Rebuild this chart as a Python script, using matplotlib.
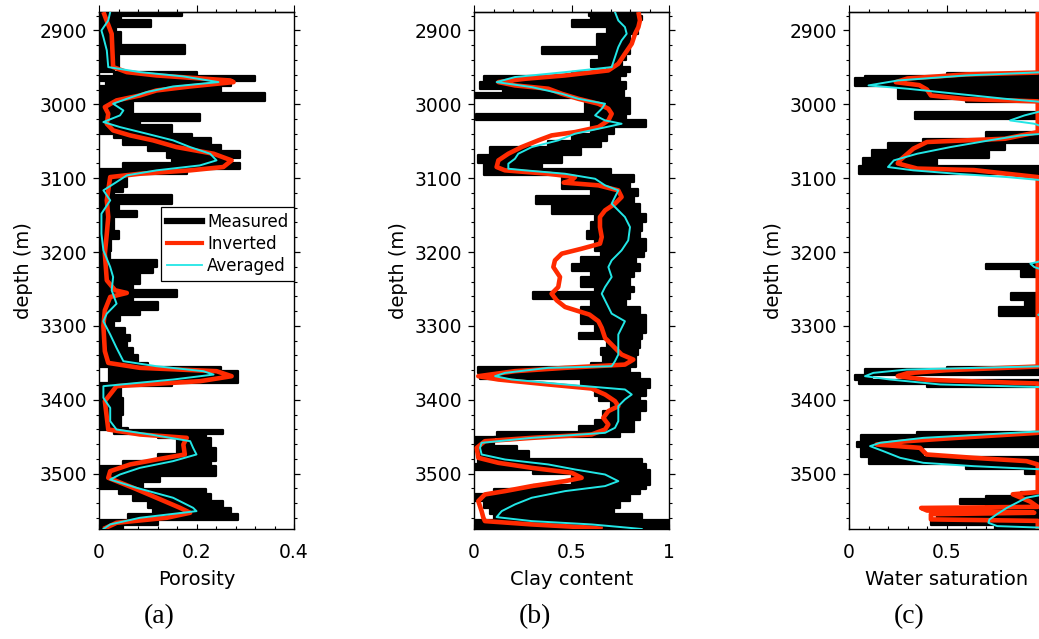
import matplotlib
matplotlib.use("Agg")
import matplotlib.pyplot as plt
from matplotlib.lines import Line2D
from matplotlib.ticker import MultipleLocator, FixedLocator

plt.rcParams['font.family'] = ['DejaVu Sans']

DEPTH_TOP, DEPTH_BOTTOM = 2875, 3575
RED = '#ff2a00'
CYAN = '#22e6e6'

# ---------------- Porosity ----------------
por_meas_top = [2875, 2880, 2886, 2895, 2902, 2920, 2932, 2950, 2956, 2962, 2968, 2975,
                2984, 2995, 3013, 3022, 3028, 3040, 3045, 3055, 3063, 3073, 3080, 3088,
                3094, 3112, 3119, 3123, 3135, 3144, 3152, 3171, 3182, 3198, 3211, 3220,
                3229, 3243, 3252, 3261, 3268, 3278, 3285, 3294, 3303, 3312, 3321, 3330,
                3339, 3350, 3355, 3361, 3377, 3382, 3397, 3420, 3438, 3441, 3447, 3452,
                3465, 3474, 3483, 3490, 3503, 3512, 3521, 3528, 3537, 3546, 3555, 3563, 3570]
por_meas_lo = [0.0, 0.0, 0.0, 0.0, 0.0, 0.0, 0.0, 0.0, 0.03, 0.0, 0.015, 0.0,
               0.0, 0.0, 0.0, 0.0, 0.0, 0.03, 0.05, 0.1, 0.14, 0.15, 0.05, 0.0,
               0.0, 0.0, 0.0, 0.0, 0.0, 0.0, 0.0, 0.0, 0.0, 0.0, 0.0, 0.0,
               0.0, 0.0, 0.0, 0.0, 0.0, 0.0, 0.0, 0.0, 0.0, 0.0, 0.0, 0.0,
               0.0, 0.0, 0.02, 0.02, 0.0, 0.0, 0.0, 0.0, 0.0, 0.03, 0.12, 0.16,
               0.16, 0.12, 0.05, 0.0, 0.0, 0.0, 0.04, 0.07, 0.1, 0.11, 0.06, 0.0, 0.0]
por_meas_hi = [0.17, 0.045, 0.107, 0.035, 0.045, 0.176, 0.04, 0.03, 0.2, 0.32, 0.27, 0.25,
               0.34, 0.07, 0.207, 0.084, 0.15, 0.19, 0.23, 0.25, 0.29, 0.27, 0.29, 0.18,
               0.057, 0.05, 0.03, 0.149, 0.04, 0.077, 0.03, 0.04, 0.025, 0.023, 0.118, 0.11,
               0.085, 0.07, 0.16, 0.07, 0.122, 0.085, 0.043, 0.03, 0.054, 0.064, 0.057, 0.07,
               0.08, 0.1, 0.25, 0.286, 0.15, 0.046, 0.05, 0.045, 0.06, 0.255, 0.22, 0.23,
               0.24, 0.24, 0.23, 0.24, 0.125, 0.09, 0.22, 0.23, 0.255, 0.27, 0.286, 0.12, 0.05]

por_inv_depth = [2875, 2904.5, 2949.6, 2956.4, 2960.9, 2967.7, 2969.9, 2975.8, 2981.2, 2988,
                 2994.7, 3003.7, 3012.8, 3026.3, 3035.3, 3042.1, 3048.8, 3057.9, 3066.9, 3075.9,
                 3084.9, 3089.4, 3094, 3098.5, 3130, 3152.6, 3175.1, 3202.2, 3238.3, 3251.8,
                 3255.4, 3260.8, 3278.9, 3300, 3334.3, 3350.1, 3356.8, 3361.3, 3368.1, 3374.9,
                 3381.6, 3401.9, 3440.3, 3447, 3451.6, 3460.6, 3474.1, 3480.9, 3487.6, 3496.7,
                 3505.7, 3519.2, 3532.7, 3546.3, 3553, 3559.8, 3566.6, 3575]
por_inv = [0.009, 0.026, 0.029, 0.057, 0.118, 0.269, 0.276, 0.187, 0.118, 0.084,
           0.036, 0.012, 0.019, 0.016, 0.029, 0.064, 0.111, 0.159, 0.235, 0.272,
           0.255, 0.187, 0.084, 0.023, 0.016, 0.019, 0.016, 0.012, 0.016, 0.033,
           0.057, 0.023, 0.012, 0.009, 0.012, 0.019, 0.084, 0.241, 0.272, 0.207,
           0.036, 0.012, 0.019, 0.084, 0.18, 0.173, 0.176, 0.118, 0.064, 0.023,
           0.019, 0.07, 0.118, 0.166, 0.187, 0.139, 0.036, 0.009]

por_avg_depth = [2875, 2886.5, 2900, 2909, 2927, 2949.6, 2956.4, 2962.2, 2969.9, 2975.8,
                 2983.4, 2992.5, 2999.2, 3008.3, 3015, 3024, 3030.8, 3039.8, 3048.8, 3057.9,
                 3066.9, 3075.9, 3082.7, 3089.4, 3096.2, 3105.2, 3116.5, 3130, 3148.1, 3175.1,
                 3197.7, 3220.3, 3233.8, 3251.8, 3269.9, 3283.4, 3293.7, 3311.7, 3329.8, 3347.8,
                 3354.6, 3361.3, 3365.9, 3372.6, 3381.6, 3397.4, 3411, 3429, 3440.3, 3447,
                 3456.1, 3465.1, 3474.1, 3483.1, 3492.2, 3501.2, 3508, 3519.2, 3532.7, 3546.3,
                 3550.8, 3559.8, 3568.8, 3575]
por_avg = [0.023, 0.019, 0.005, 0.009, 0.016, 0.019, 0.084, 0.173, 0.245, 0.152,
           0.098, 0.057, 0.029, 0.05, 0.043, 0.009, 0.043, 0.098, 0.152, 0.187,
           0.228, 0.241, 0.207, 0.118, 0.057, 0.036, 0.009, 0.023, 0.005, 0.005,
           0.009, 0.023, 0.029, 0.026, 0.036, 0.016, 0.009, 0.023, 0.036, 0.05,
           0.118, 0.214, 0.235, 0.152, 0.009, 0.009, 0.023, 0.023, 0.036, 0.105,
           0.187, 0.193, 0.2, 0.152, 0.084, 0.043, 0.023, 0.077, 0.152, 0.193,
           0.2, 0.084, 0.023, 0.009]

# ---------------- Clay content ----------------
clay_meas_top = [2875, 2880, 2886, 2895, 2905, 2922, 2932, 2940, 2950, 2956, 2962, 2970,
                 2979, 2985, 2992, 3013, 3021, 3031, 3040, 3049, 3058, 3069, 3080, 3087,
                 3096, 3105, 3114, 3124, 3135, 3148, 3159, 3171, 3182, 3198, 3207, 3216,
                 3225, 3234, 3247, 3254, 3263, 3274, 3285, 3298, 3309, 3318, 3330, 3340,
                 3350, 3356, 3364, 3372, 3384, 3395, 3402, 3415, 3428, 3436, 3443, 3450,
                 3462, 3470, 3480, 3487, 3495, 3500, 3515, 3521, 3528, 3537, 3546, 3555,
                 3563, 3570]
clay_meas_lo = [0.59, 0.6, 0.5, 0.68, 0.63, 0.35, 0.64, 0.6, 0.68, 0.5, 0.05, 0.03,
                0.15, 0.0, 0.57, 0.01, 0.6, 0.6, 0.5, 0.38, 0.08, 0.02, 0.05, 0.05,
                0.45, 0.45, 0.6, 0.32, 0.4, 0.62, 0.6, 0.58, 0.62, 0.65, 0.55, 0.5,
                0.6, 0.55, 0.62, 0.3, 0.6, 0.55, 0.55, 0.62, 0.54, 0.68, 0.65, 0.66,
                0.6, 0.02, 0.03, 0.55, 0.62, 0.64, 0.7, 0.66, 0.62, 0.54, 0.12, 0.0,
                0.0, 0.03, 0.02, 0.0, 0.3, 0.5, 0.3, 0.1, 0.0, 0.05, 0.08, 0.1,
                0.0, 0.0]
clay_meas_hi = [0.85, 0.86, 0.84, 0.84, 0.8, 0.8, 0.78, 0.76, 0.8, 0.78, 0.75, 0.78,
                0.77, 0.77, 0.8, 0.78, 0.88, 0.72, 0.68, 0.65, 0.55, 0.45, 0.35, 0.7,
                0.82, 0.8, 0.84, 0.82, 0.85, 0.88, 0.86, 0.85, 0.88, 0.87, 0.83, 0.85,
                0.82, 0.8, 0.82, 0.8, 0.78, 0.85, 0.88, 0.88, 0.86, 0.85, 0.84, 0.83,
                0.83, 0.8, 0.85, 0.9, 0.88, 0.85, 0.88, 0.85, 0.82, 0.82, 0.75, 0.1,
                0.22, 0.28, 0.86, 0.88, 0.9, 0.9, 0.88, 0.85, 0.8, 0.75, 0.72, 0.86,
                1.0, 1.0]

clay_inv_depth = [2875, 2886.5, 2895.5, 2904.5, 2918, 2931.5, 2945.1, 2954.1, 2960.9, 2965.4,
                  2969.9, 2974.4, 2978.9, 2985.7, 2992.5, 2999.2, 3006, 3012.8, 3021.8, 3030.8,
                  3037.6, 3042.1, 3048.8, 3057.9, 3066.9, 3075.9, 3084.9, 3089.4, 3094, 3098.5,
                  3103, 3106, 3109.7, 3116.5, 3125.5, 3134.5, 3143.6, 3152.6, 3166.2, 3179.7,
                  3188.7, 3195.5, 3202.2, 3211.3, 3220.3, 3233.8, 3247.4, 3256.4, 3265.4, 3274.4,
                  3284.7, 3293.7, 3302.7, 3316.3, 3329.8, 3338.8, 3345.6, 3352.4, 3356.8, 3361.3,
                  3368.1, 3372.6, 3379.3, 3384.8, 3392.9, 3401.9, 3408.7, 3415.4, 3424.5, 3433.5,
                  3440.3, 3447, 3451.6, 3456.1, 3465.1, 3478.6, 3485.4, 3492.2, 3498.9, 3505.7,
                  3510.2, 3516.9, 3523.7, 3528.2, 3537.2, 3550.8, 3559.8, 3564.3, 3568.8, 3573.3,
                  3575]
clay_inv = [0.843, 0.851, 0.843, 0.826, 0.809, 0.774, 0.74, 0.689, 0.467, 0.262,
            0.125, 0.21, 0.381, 0.45, 0.535, 0.638, 0.689, 0.706, 0.689, 0.638,
            0.518, 0.398, 0.33, 0.244, 0.176, 0.125, 0.116, 0.159, 0.381, 0.518,
            0.5, 0.46, 0.638, 0.74, 0.757, 0.723, 0.672, 0.646, 0.646, 0.655,
            0.646, 0.552, 0.45, 0.415, 0.407, 0.441, 0.432, 0.398, 0.424, 0.467,
            0.592, 0.638, 0.655, 0.672, 0.723, 0.757, 0.817, 0.774, 0.467, 0.21,
            0.022, 0.125, 0.381, 0.603, 0.672, 0.723, 0.74, 0.689, 0.663, 0.689,
            0.672, 0.603, 0.296, 0.056, 0.014, 0.022, 0.125, 0.296, 0.501, 0.552,
            0.467, 0.296, 0.159, 0.056, 0.022, 0.039, 0.048, 0.056, 0.296, 0.603,
            0.66]

clay_avg_depth = [2875, 2886.5, 2895.5, 2904.5, 2913.5, 2922.6, 2936.1, 2949.6, 2956.4, 2963.1,
                  2969.9, 2976.7, 2985.7, 2992.5, 2999.2, 3006, 3015, 3021.8, 3026.3, 3033.1,
                  3039.8, 3048.8, 3057.9, 3066.9, 3073.7, 3080.4, 3087.2, 3089.4, 3094, 3100.8,
                  3109.7, 3116.5, 3125.5, 3134.5, 3143.6, 3152.6, 3166.2, 3184.2, 3197.7, 3211.3,
                  3220.3, 3233.8, 3247.4, 3256.4, 3265.4, 3274.4, 3283.4, 3293.7, 3302.7, 3311.7,
                  3338.8, 3347.8, 3354.6, 3356.8, 3363.6, 3368.1, 3372.6, 3379.3, 3386.1, 3392.9,
                  3399.6, 3408.7, 3420, 3429, 3438, 3444.8, 3451.6, 3458.3, 3465.1, 3474.1,
                  3480.9, 3487.6, 3494.4, 3501.2, 3510.2, 3516.9, 3523.7, 3532.7, 3541.7, 3550.8,
                  3558.9, 3564.3, 3568.8, 3573.3, 3575]
clay_avg = [0.723, 0.74, 0.774, 0.783, 0.757, 0.74, 0.723, 0.706, 0.467, 0.21,
            0.116, 0.296, 0.45, 0.535, 0.672, 0.655, 0.621, 0.672, 0.757, 0.638,
            0.518, 0.432, 0.296, 0.227, 0.21, 0.176, 0.176, 0.262, 0.467, 0.621,
            0.672, 0.74, 0.723, 0.706, 0.74, 0.774, 0.8, 0.791, 0.757, 0.706,
            0.689, 0.706, 0.672, 0.655, 0.672, 0.689, 0.706, 0.774, 0.757, 0.74,
            0.74, 0.723, 0.706, 0.381, 0.159, 0.108, 0.193, 0.467, 0.774, 0.809,
            0.774, 0.74, 0.74, 0.74, 0.723, 0.672, 0.296, 0.039, 0.031, 0.039,
            0.159, 0.381, 0.518, 0.672, 0.74, 0.672, 0.467, 0.296, 0.21, 0.142,
            0.116, 0.296, 0.603, 0.791, 0.86]

# ---------------- Water saturation ----------------
sw_meas_top = [2875, 2957, 2961, 2965, 2975, 2993, 2997, 3011, 3020, 3038, 3047, 3052,
               3062, 3073, 3083, 3095, 3216, 3223, 3234, 3256, 3265, 3274, 3287, 3355,
               3359, 3366, 3373, 3378, 3383, 3443, 3448, 3457, 3464, 3478, 3487, 3494,
               3500, 3525, 3530, 3535, 3541, 3546, 3555, 3563, 3570]
sw_meas_lo = [1.0, 0.5, 0.08, 0.03, 0.25, 0.6, 1.0, 0.34, 1.0, 0.7, 0.38, 0.2,
              0.12, 0.07, 0.05, 1.0, 0.7, 0.88, 1.0, 0.83, 0.9, 0.77, 1.0, 0.5,
              0.08, 0.03, 0.05, 0.4, 1.0, 0.35, 0.06, 0.04, 0.06, 0.1, 0.6, 0.9,
              1.0, 0.88, 0.7, 0.57, 0.7, 0.55, 0.45, 0.42, 0.75]
sw_meas_hi = [1.0, 1.0, 1.0, 1.0, 1.0, 1.0, 1.0, 1.0, 1.0, 1.0, 1.0, 0.8,
              0.72, 0.45, 1.0, 1.0, 1.0, 1.0, 1.0, 1.0, 1.0, 1.0, 1.0, 1.0,
              1.0, 0.12, 1.0, 1.0, 1.0, 1.0, 1.0, 1.0, 0.38, 1.0, 1.0, 1.0,
              1.0, 1.0, 1.0, 1.0, 1.0, 1.0, 1.0, 1.0, 1.0]

sw_inv_depth = [2875, 2957, 2959.5, 2965, 2970, 2974, 2980, 2988, 2993, 2996,
                3037.6, 3046.6, 3051, 3060, 3076, 3080, 3087, 3089, 3094, 3098.5,
                3355, 3360, 3364, 3368, 3373, 3378, 3444.8, 3451.6, 3456.1, 3460.6,
                3465.1, 3474.1, 3478.6, 3483.1, 3487.6, 3525, 3528, 3538, 3545, 3546.5,
                3550, 3553, 3555, 3562, 3564, 3575]
sw_inv = [0.968, 0.968, 0.6, 0.3, 0.24, 0.36, 0.4, 0.42, 0.6, 0.968,
          0.968, 0.8, 0.4, 0.33, 0.26, 0.25, 0.35, 0.64, 0.81, 0.968,
          0.968, 0.5, 0.3, 0.25, 0.4, 0.968, 0.968, 0.552, 0.296, 0.142,
          0.364, 0.398, 0.638, 0.91, 0.968, 0.968, 0.84, 0.93, 0.968, 0.37,
          0.4, 0.95, 0.42, 0.42, 0.968, 0.968]

sw_avg_depth = [2875, 2956.4, 2960.9, 2967.7, 2974.4, 2978.9, 2985.7, 2992.5, 2997, 3008.3,
                3015, 3021.8, 3026.3, 3030.8, 3039.8, 3042.1, 3048.8, 3057.9, 3066.9, 3075.9,
                3084.9, 3089.4, 3094, 3098.5, 3103, 3211.3, 3215.7, 3220.3, 3224.8, 3281.1,
                3285, 3288, 3354.6, 3359.1, 3363.6, 3368.1, 3372.6, 3379.3, 3383, 3442.5,
                3451.6, 3458.3, 3462.8, 3469.6, 3478.6, 3485.4, 3489.9, 3494.4, 3528.2, 3532.7,
                3537.2, 3546.3, 3555.3, 3562.1, 3566.6, 3571.1, 3573.3, 3575]
sw_avg = [1.0, 1.0, 0.6, 0.25, 0.1, 0.3, 0.55, 0.8, 1.0, 1.0,
          0.9, 0.826, 0.95, 1.0, 1.0, 0.88, 0.72, 0.52, 0.35, 0.23,
          0.2, 0.33, 0.55, 0.81, 1.0, 1.0, 0.93, 0.95, 1.0, 1.0,
          0.97, 1.0, 1.0, 0.296, 0.125, 0.082, 0.21, 0.467, 1.0, 1.0,
          0.381, 0.159, 0.108, 0.176, 0.262, 0.381, 0.638, 1.0, 1.0, 0.91,
          0.877, 0.81, 0.757, 0.72, 0.715, 0.76, 1.0, 1.0]

PANELS = [
    dict(meas=(por_meas_top, por_meas_lo, por_meas_hi), inv=(por_inv_depth, por_inv),
         avg=(por_avg_depth, por_avg), xmax=0.4, major=[0, 0.2, 0.4], minor=0.04,
         ticklabels=['0', '0.2', '0.4'], xlabel='Porosity', tag='(a)', legend=True),
    dict(meas=(clay_meas_top, clay_meas_lo, clay_meas_hi), inv=(clay_inv_depth, clay_inv),
         avg=(clay_avg_depth, clay_avg), xmax=1.0, major=[0, 0.5, 1.0], minor=0.1,
         ticklabels=['0', '0.5', '1'], xlabel='Clay content', tag='(b)', legend=False),
    dict(meas=(sw_meas_top, sw_meas_lo, sw_meas_hi), inv=(sw_inv_depth, sw_inv),
         avg=(sw_avg_depth, sw_avg), xmax=1.0, major=[0, 0.5, 1.0], minor=0.1,
         ticklabels=['0', '0.5', ''], xlabel='Water saturation', tag='(c)', legend=False),
]

W, H = 1039, 639
fig = plt.figure(figsize=(W / 100, H / 100), dpi=100)

ax_lefts = [99, 474, 849]
ax_w, ax_top, ax_bot = 195, 12, 529

for left, p in zip(ax_lefts, PANELS):
    ax = fig.add_axes([left / W, 1 - ax_bot / H, ax_w / W, (ax_bot - ax_top) / H])
    top, lo, hi = p['meas']
    d = list(top) + [DEPTH_BOTTOM]
    lo = list(lo) + [lo[-1]]
    hi = list(hi) + [hi[-1]]
    ax.fill_betweenx(d, lo, hi, step='post', facecolor='black', edgecolor='black',
                     lw=1.6, zorder=2)
    ax.plot(p['inv'][1], p['inv'][0], color=RED, lw=3.3, zorder=3,
            solid_joinstyle='round', solid_capstyle='butt')
    ax.plot(p['avg'][1], p['avg'][0], color=CYAN, lw=1.4, zorder=4)

    ax.set_xlim(0, p['xmax'])
    ax.set_ylim(DEPTH_BOTTOM, DEPTH_TOP)

    ax.yaxis.set_major_locator(MultipleLocator(100))
    ax.yaxis.set_minor_locator(MultipleLocator(20))
    ax.tick_params(axis='y', which='both', left=True, right=True, direction='out',
                   labelsize=13.5, pad=4)
    ax.tick_params(axis='y', which='major', length=4.5, width=0.9)
    ax.tick_params(axis='y', which='minor', length=2.3, width=0.8)

    ax.xaxis.set_major_locator(FixedLocator(p['major']))
    ax.xaxis.set_minor_locator(MultipleLocator(p['minor']))
    ax.set_xticklabels(p['ticklabels'])
    ax.tick_params(axis='x', which='both', bottom=True, top=False, direction='in',
                   labelsize=13.5, pad=10)
    ax.tick_params(axis='x', which='major', length=3.5, width=0.8)
    ax.tick_params(axis='x', which='minor', length=2.2, width=0.8)

    sec = ax.secondary_xaxis('top')
    sec.xaxis.set_major_locator(FixedLocator(p['major']))
    sec.xaxis.set_minor_locator(MultipleLocator(p['minor']))
    sec.tick_params(axis='x', which='both', direction='out', labeltop=False)
    sec.tick_params(axis='x', which='major', length=5, width=0.8)
    sec.tick_params(axis='x', which='minor', length=2.5, width=0.8)
    sec.spines['top'].set_linewidth(0.9)

    for s in ax.spines.values():
        s.set_linewidth(1.0)

    ax.set_xlabel(p['xlabel'], fontsize=14, labelpad=6)
    ax.set_ylabel('depth (m)', fontsize=14, labelpad=5)

    fig.text((left + ax_w / 2 - 37) / W, 1 - 617 / H, p['tag'], ha='center', va='center',
             fontsize=20, family=['Liberation Serif', 'DejaVu Serif'])

    if p['legend']:
        handles = [Line2D([], [], color='black', lw=4.5),
                   Line2D([], [], color=RED, lw=3.0),
                   Line2D([], [], color=CYAN, lw=1.3)]
        leg = ax.legend(handles, ['Measured', 'Inverted', 'Averaged'],
                        loc='upper right', bbox_to_anchor=(1.0, 0.623),
                        fontsize=12, frameon=True, fancybox=False, framealpha=1,
                        edgecolor='black', borderaxespad=0, borderpad=0.35,
                        labelspacing=0.25, handlelength=2.1, handletextpad=0.3)
        leg.get_frame().set_linewidth(0.9)

fig.savefig('out.png', dpi=100)
